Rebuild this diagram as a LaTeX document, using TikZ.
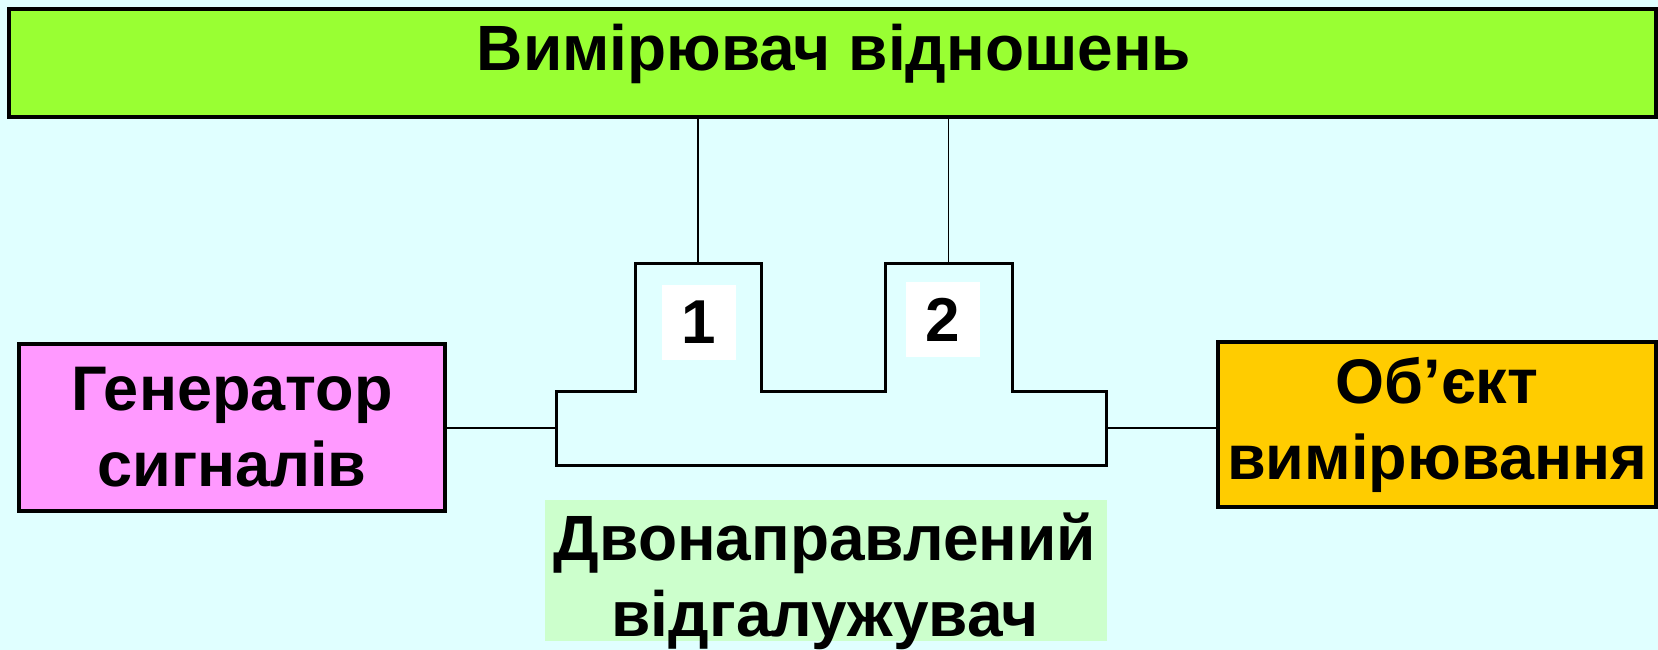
\documentclass[tikz,border=0pt]{standalone}
\usepackage{fontspec}
\setmainfont{Liberation Sans}
\definecolor{bg}{HTML}{E0FFFF}
\definecolor{meterfill}{HTML}{99FF33}
\definecolor{genfill}{HTML}{FF99FF}
\definecolor{objfill}{HTML}{FFCC00}
\definecolor{labfill}{HTML}{CCFFCC}
\tikzset{
  block/.style={draw=black, line width=4pt, inner sep=0pt, align=center,
    font=\fontsize{63}{76}\selectfont\bfseries},
  numbox/.style={fill=white, inner sep=0pt, minimum width=74pt, minimum height=75pt,
    font=\fontsize{62}{75}\selectfont\bfseries},
  wire/.style={line width=1.5pt},
  coupler/.style={line width=3pt, line join=miter}
}
\begin{document}
\begin{tikzpicture}[x=1pt,y=-1pt]
\fill[bg] (0,0) rectangle (1658,650);
\useasboundingbox (0,0) rectangle (1658,650);
% top block
\node[block, fill=meterfill, minimum width=1647pt, minimum height=108pt] (meter) at (832.5,63) {};
\node[font=\fontsize{64}{75}\selectfont\bfseries, anchor=base, inner sep=0pt] (metertext) at (834,71) {Вимірювач відношень};
% generator
\node[block, fill=genfill, minimum width=426pt, minimum height=167pt] (gen) at (232,427.5) {Генератор\\сигналів};
% object
\node[block, fill=objfill, minimum width=438pt, minimum height=165pt] (obj) at (1437,424.5) {Об’єкт\\вимірювання};
% coupler
\draw[coupler] (556,391) -- (635,391) -- (635,263) -- (761,263) -- (761,391) -- (885,391) -- (885,263) -- (1012,263) -- (1012,391) -- (1106,391) -- (1106,465) -- (556,465) -- cycle;
\coordinate (p1) at (698,263);
\coordinate (p2) at (948.7,263);
\coordinate (cl) at (556,428);
\coordinate (cr) at (1106,428);
\node[numbox] (n1) at (699,322.5) {1};
\node[numbox] (n2) at (942.5,319.5) {2};
% label
\node[fill=labfill, inner sep=0pt, minimum width=562pt, minimum height=141pt] (lab) at (826,570.5) {};
\node[inner sep=0pt, align=center, font=\fontsize{64}{76}\selectfont\bfseries] (labtext) at (825,581) {Двонаправлений\\відгалужувач};
% wires
\draw[wire] (meter.south -| p1) -- (p1);
\draw[wire] (meter.south -| p2) -- (p2);
\draw[wire] (gen.east |- cl) -- (cl);
\draw[wire] (cr) -- (obj.west |- cr);
\end{tikzpicture}
\end{document}
